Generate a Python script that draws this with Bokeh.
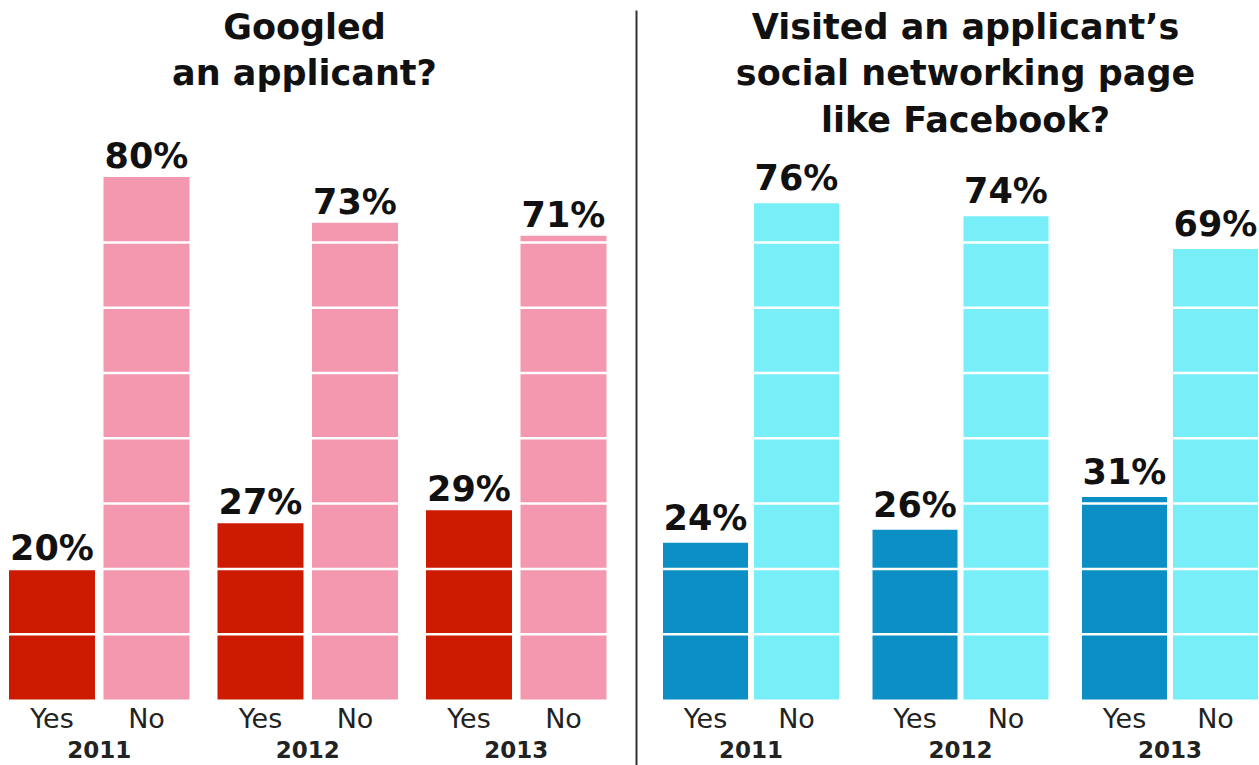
from bokeh.plotting import figure
from bokeh.models import ColumnDataSource, Range1d
from bokeh.core.properties import value
from bokeh.embed import file_html
from bokeh.resources import INLINE

# ---- data ----
years = ["2011", "2012", "2013"]
answers = ["Yes", "No"]
google_yes = [20, 27, 29]
google_no = [80, 73, 71]
social_yes = [24, 26, 31]
social_no = [76, 74, 69]
google_title = ["Googled", "an applicant?"]
social_title = ["Visited an applicant\u2019s", "social networking page", "like Facebook?"]
grid_levels = [10, 20, 30, 40, 50, 60, 70]

# ---- layout / style constants (pixels) ----
W, H = 1259, 765
BASE_PX = 699          # pixel row of the 0% baseline (from top)
PX = 6.53              # pixels per percentage point
FONT_B = value("DejaVu Sans")

def y_at(px_from_top):
    return (BASE_PX - px_from_top) / PX

panels = [
    dict(yes=google_yes, no=google_no, first=51.5, period=208.5, pair=94.5,
         width=86, yes_color="#CC1B00", no_color="#F398AF",
         title=google_title, title_x=304, gap=9),
    dict(yes=social_yes, no=social_no, first=705, period=209.5, pair=91,
         width=85, yes_color="#0B8FC5", no_color="#78EEF8",
         title=social_title, title_x=965, gap=13),
]

# vertical shifts compensating the renderer's text baseline placement
VAL_SHIFT = 12
TITLE_SHIFT = 11
ANS_SHIFT = 10
YEAR_SHIFT = 10

p = figure(width=W, height=H, output_backend="svg", toolbar_location=None,
           x_range=Range1d(0, W), y_range=Range1d(y_at(H), y_at(0)),
           x_axis_type=None, y_axis_type=None, min_border=0)
p.grid.visible = False
p.outline_line_color = None
p.background_fill_color = "white"
p.border_fill_color = "white"

for pan in panels:
    xs_yes = [pan["first"] + i * pan["period"] for i in range(len(years))]
    xs_no = [x + pan["pair"] for x in xs_yes]
    lift = (pan["gap"] + VAL_SHIFT) / PX
    src_yes = ColumnDataSource(dict(x=xs_yes, top=pan["yes"],
                                    lab=[f"{v}%" for v in pan["yes"]],
                                    ly=[v + lift for v in pan["yes"]]))
    src_no = ColumnDataSource(dict(x=xs_no, top=pan["no"],
                                   lab=[f"{v}%" for v in pan["no"]],
                                   ly=[v + lift for v in pan["no"]]))
    p.vbar(x="x", top="top", bottom=0, width=pan["width"], source=src_yes,
           fill_color=pan["yes_color"], line_color=None)
    p.vbar(x="x", top="top", bottom=0, width=pan["width"], source=src_no,
           fill_color=pan["no_color"], line_color=None)

    # white division lines across the bars
    x0 = xs_yes[0] - pan["width"] / 2 - 2
    x1 = xs_no[-1] + pan["width"] / 2 + 2
    p.segment(x0=[x0] * len(grid_levels), x1=[x1] * len(grid_levels),
              y0=grid_levels, y1=grid_levels, line_color="white", line_width=2.5)

    # value labels
    for src in (src_yes, src_no):
        p.text(x="x", y="ly", text="lab", source=src, text_align="center",
               text_baseline="alphabetic", text_font=FONT_B,
               text_font_style="bold", text_font_size="35px", text_color="#111111")

    # Yes / No labels
    p.text(x=xs_yes + xs_no, y=[y_at(728 - ANS_SHIFT)] * (2 * len(years)),
           text=[answers[0]] * len(years) + [answers[1]] * len(years),
           text_align="center", text_baseline="alphabetic", text_font=FONT_B,
           text_font_size="27px", text_color="#222222")
    # year labels
    p.text(x=[(a + b) / 2 for a, b in zip(xs_yes, xs_no)],
           y=[y_at(759 - YEAR_SHIFT)] * len(years),
           text=years, text_align="center", text_baseline="alphabetic",
           text_font=FONT_B, text_font_style="bold", text_font_size="23px",
           text_color="#222222")

    # panel title
    n = len(pan["title"])
    p.text(x=[pan["title_x"]] * n,
           y=[y_at(37 + 46.5 * i - TITLE_SHIFT) for i in range(n)],
           text=pan["title"], text_align="center", text_baseline="alphabetic",
           text_font=FONT_B, text_font_style="bold", text_font_size="35px",
           text_color="#111111")

# vertical separator between the two panels
p.segment(x0=[636], x1=[636], y0=[y_at(10)], y1=[y_at(H)], line_color="#333333",
          line_width=2)

open("out.html", "w").write(file_html(p, INLINE))
